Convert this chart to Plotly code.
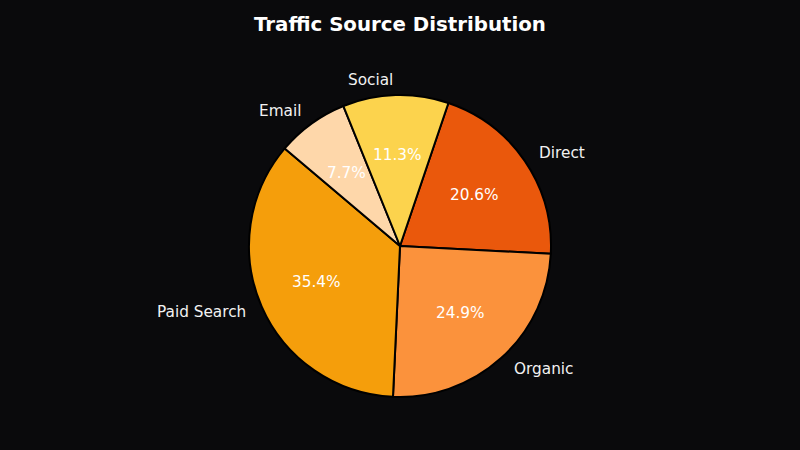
import math

import plotly.graph_objects as go

# Traffic sources, listed clockwise starting from the top-right slice
SOURCES = ["Direct", "Organic", "Paid Search", "Email", "Social"]
SHARES = [20.6, 24.9, 35.4, 7.7, 11.3]
COLORS = ["#EA580C", "#FB923C", "#F59E0B", "#FED7AA", "#FCD34D"]

BG = "#0A0A0C"
FONT = "DejaVu Sans, Arial, sans-serif"

W, H = 800, 450
TOP, BOTTOM = 95, 53          # pie box: 302 px tall, full width
ROTATION = 18.7               # degrees clockwise from 12 o'clock

fig = go.Figure(go.Pie(
    labels=SOURCES,
    values=SHARES,
    sort=False,
    direction="clockwise",
    rotation=ROTATION,
    marker=dict(colors=COLORS, line=dict(color="#000000", width=2)),
    textinfo="none",
    hovertemplate="%{label}: %{percent:.1%}<extra></extra>",
    showlegend=False,
))

# matplotlib-style labels: names at 1.1 r outside, percentages at 0.6 r inside
box_h = H - TOP - BOTTOM
rx = (box_h / 2) / W          # radius in paper-x units
ry = 0.5                      # radius in paper-y units
total = sum(SHARES)
annotations = []
angle = ROTATION
for name, val in zip(SOURCES, SHARES):
    span = val / total * 360
    mid = math.radians(angle + span / 2)   # clockwise from top
    sx, sy = math.sin(mid), math.cos(mid)
    annotations.append(dict(
        x=0.5 + 1.1 * rx * sx, y=0.5 + 1.1 * ry * sy,
        xref="paper", yref="paper",
        text=name, showarrow=False,
        xanchor="left" if sx > 0 else "right", yanchor="middle",
        font=dict(family=FONT, size=15.3, color="#F2F2F2"),
    ))
    annotations.append(dict(
        x=0.5 + 0.6 * rx * sx, y=0.5 + 0.6 * ry * sy,
        xref="paper", yref="paper",
        text=f"{val / total * 100:.1f}%", showarrow=False,
        xanchor="center", yanchor="middle",
        font=dict(family=FONT, size=15.3, color="#FFFFFF"),
    ))
    angle += span

fig.update_layout(
    width=W,
    height=H,
    paper_bgcolor=BG,
    plot_bgcolor=BG,
    margin=dict(l=0, r=0, t=TOP, b=BOTTOM),
    title=dict(
        text="<b>Traffic Source Distribution</b>",
        x=0.5, xanchor="center",
        y=1 - 24 / H, yanchor="middle",
        font=dict(family=FONT, size=19.8, color="#FFFFFF"),
    ),
    annotations=annotations,
)

# drop the browser's default page margin so the figure fills the window
fig.write_html(
    "out.html",
    config={"displayModeBar": False},
    post_script="document.body.style.margin='0';"
                "document.body.style.background='" + BG + "';",
)
